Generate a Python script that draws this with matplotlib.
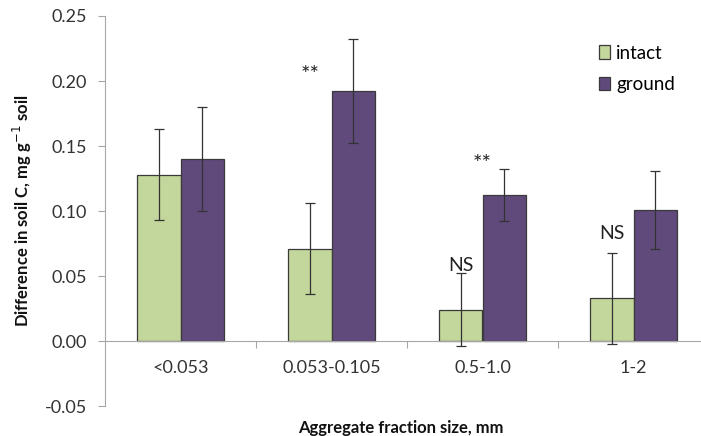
import numpy as np
import matplotlib.pyplot as plt
from matplotlib.ticker import FixedLocator, FormatStrFormatter

# Data
categories = ["<0.053", "0.053-0.105", "0.5-1.0", "1-2"]
intact = [0.128, 0.071, 0.024, 0.033]
intact_err = [0.035, 0.035, 0.028, 0.035]
ground = [0.140, 0.192, 0.112, 0.101]
ground_err = [0.040, 0.040, 0.020, 0.030]

# significance labels: text, x (data units), y
mark_text = ["**", "**", "NS", "NS"]
mark_x = [0.86, 2.0, 1.857, 2.857]
mark_y = [0.205, 0.136, 0.058, 0.083]

plt.rcParams['font.family'] = ['Lato', 'DejaVu Sans']

fig = plt.figure(figsize=(7.01, 4.36), dpi=100)
# axes runs a bit past the right edge, as in the original
ax = fig.add_axes([105 / 701, 30 / 436, 604 / 701, 390 / 436])

x = np.arange(len(categories))
w = 0.285
edge = '#3a3a3a'
ax.bar(x - w / 2, intact, w, color='#c3d69b', edgecolor=edge, linewidth=0.9, label='intact', zorder=2)
ax.bar(x + w / 2, ground, w, color='#604a7b', edgecolor=edge, linewidth=0.9, label='ground', zorder=2)
ax.errorbar(x - w / 2, intact, yerr=intact_err, fmt='none', ecolor='#333333', elinewidth=0.9, capsize=3.5, capthick=0.9, zorder=3)
ax.errorbar(x + w / 2, ground, yerr=ground_err, fmt='none', ecolor='#333333', elinewidth=0.9, capsize=3.5, capthick=0.9, zorder=3)

for txt, xi, yi in zip(mark_text, mark_x, mark_y):
    fs = 16 if txt == "**" else 14
    ax.text(xi, yi, txt, ha='center', va='center', fontsize=fs, color='#222222')

ax.set_xlim(-0.5, 3.5)
ax.set_ylim(-0.05, 0.25)
ax.set_yticks(np.arange(-0.05, 0.2501, 0.05))
ax.yaxis.set_major_formatter(FormatStrFormatter('%.2f'))

ax.spines['top'].set_visible(False)
ax.spines['right'].set_visible(False)
ax.spines['bottom'].set_position(('data', 0))
ax.spines['left'].set_color('#a6a6a6')
ax.spines['bottom'].set_color('#a6a6a6')

ax.xaxis.set_major_locator(FixedLocator([0.5, 1.5, 2.5]))
ax.xaxis.set_minor_locator(FixedLocator(x))
ax.set_xticklabels([])
ax.set_xticklabels(categories, minor=True)
ax.tick_params(axis='x', which='major', direction='out', length=5, color='#a6a6a6')
ax.tick_params(axis='x', which='minor', length=0, pad=14, labelsize=13, labelcolor='#333333')
ax.tick_params(axis='y', direction='out', length=5, color='#a6a6a6', labelsize=13, labelcolor='#333333', pad=8)

ax.set_ylabel('Difference in soil C, mg g$^{-1}$ soil', fontsize=12, fontweight='bold', color='#111111', labelpad=8)
ax.set_xlabel('Aggregate fraction size, mm', fontsize=12, fontweight='bold', color='#111111')
ax.xaxis.set_label_coords(0.49, -0.035)

ax.legend(loc='upper left', bbox_to_anchor=(0.79, 0.97), frameon=False, fontsize=13.5,
          handlelength=0.6, handleheight=0.7, handletextpad=0.3, labelspacing=0.75)

fig.savefig('out.png', dpi=100)
